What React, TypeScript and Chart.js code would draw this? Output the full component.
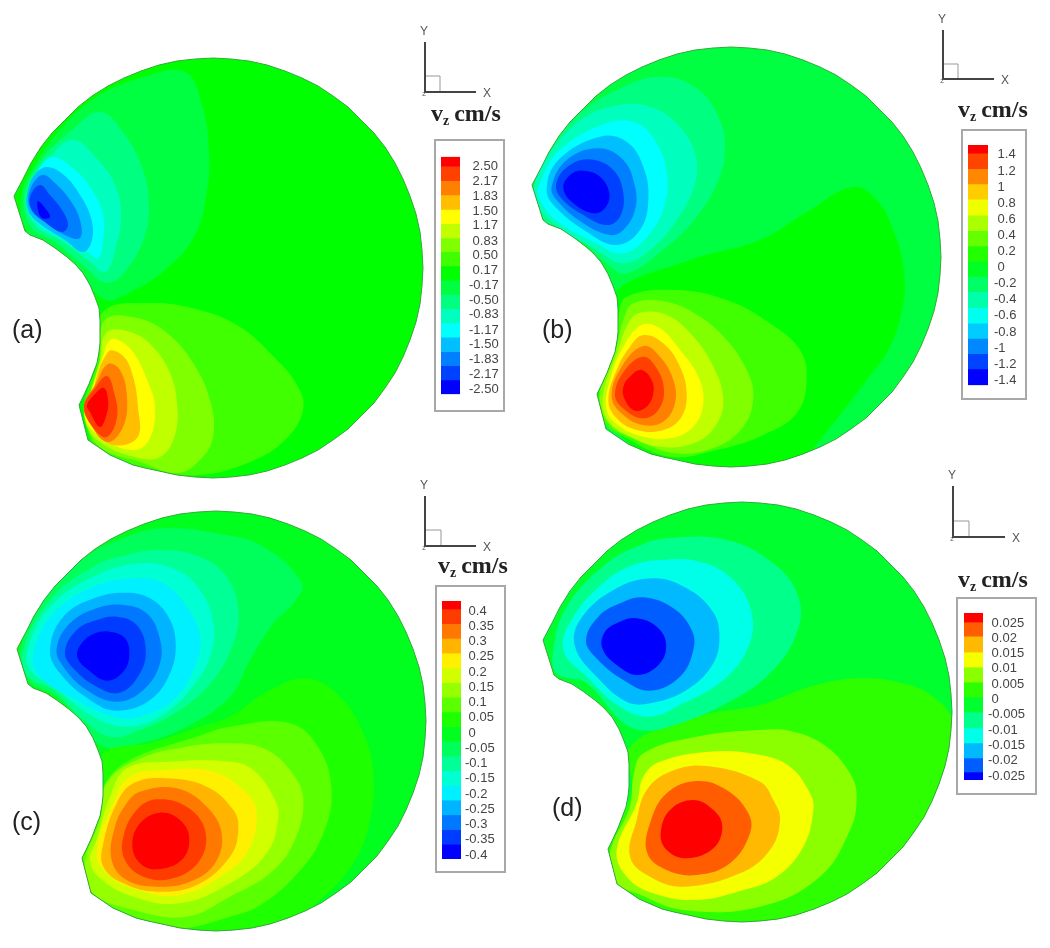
import React, { useEffect, useRef } from "react";
import { Chart, registerables } from "chart.js";

type Pts = number[][];

// ---- Domain outline, in page units (panel a); other panels use the same shape shifted
const outline: Pts = [[14,196],[23,179],[31,163],[41,147],[52,133],[65,120],[78,107],[92,96],[108,86],[124,78],[141,71],[159,65],[177,61],[195,59],[213,58],[231,59],[249,61],[267,65],[285,71],[302,78],[318,86],[333,96],[348,107],[361,120],[374,133],[385,147],[395,163],[403,179],[410,196],[416,214],[420,232],[422,250],[423,268],[422,286],[420,304],[416,322],[410,340],[403,357],[395,373],[385,388],[374,403],[361,416],[348,429],[333,440],[318,450],[302,458],[285,465],[267,471],[249,475],[231,477],[213,478],[195,477],[177,475],[159,471],[145,468],[133,465],[110,455],[88,440],[79,405],[83,397],[89,384],[97,363],[99,352],[100,343],[100,320],[99,308],[95,297],[90,285],[83,273],[75,264],[67,257],[55,248],[43,240],[30,235],[25,231]];
const outlineShift: Pts = [[0,0],[518,-11],[3,453],[529,444]];
const cropOrigins: Pts = [[0,0],[510,60],[0,520],[510,520]];
const cropDiv = [1,3,3,3];
const baseColors = ["#00ff00","#00ff40","#00ff1e","#00ff2e"];
const zeroColors = ["","#00ff00","","#2eff00"];

// ---- Contour colours
const coldA = ["#00ff40","#00ff80","#00ffbf","#00ffff","#00bfff","#0080ff","#0040ff","#0000ff"];
const warmA = ["#40ff00","#80ff00","#bfff00","#ffff00","#ffbf00","#ff8000","#ff4000","#ff0000"];
const coldB = ["#00ff80","#00ffbf","#00ffff","#00bfff","#0080ff","#0040ff","#0000ff"];
const warmB = warmA;
const coldC = ["#00ff5a","#00ff96","#00ffd2","#00f0ff","#00b4ff","#0078ff","#003cff","#0000ff"];
const warmC = ["#1eff00","#5aff00","#96ff00","#d2ff00","#fff000","#ffb400","#ff7800","#ff3c00","#ff0000"];
const coldD = ["#00ff8b","#00ffe8","#00b9ff","#005dff","#0000ff"];
const warmD = ["#8bff00","#f5ff00","#ffb900","#ff5d00","#ff0000"];

// ---- Panel (a) contours
const aCold: Pts[] = [
  [[185,72],[202,105],[209,150],[207,190],[195,235],[165,270],[125,295],[105,300],[85,280],[55,250],[28,232],[21,197],[35,165],[60,130],[95,98],[140,78]],
  [[100,112],[125,135],[143,170],[149,205],[145,235],[130,265],[108,283],[85,267],[55,242],[32,228],[24,197],[40,162],[70,132]],
  [[72,140],[98,160],[115,185],[121,215],[115,250],[105,272],[88,260],[60,240],[35,225],[27,197],[45,165]],
  [[52,157],[75,170],[92,190],[103,215],[103,240],[98,258],[85,250],[60,237],[37,222],[28,197],[37,172]],
  [[48,167],[65,176],[80,195],[91,218],[92,240],[83,252],[65,240],[40,224],[28,210],[28,190],[36,173]],
  [[42,175],[55,183],[70,200],[80,220],[80,238],[65,235],[42,220],[30,208],[30,190]],
  [[40,185],[50,195],[62,210],[68,225],[62,232],[45,222],[32,210],[30,197]],
  [[38,201],[45,208],[50,217],[42,218],[38,210]],
];
const aWarm: Pts[] = [
  [[103,312],[150,303],[200,310],[240,327],[272,355],[297,385],[303,410],[285,440],[250,462],[200,475],[150,470],[100,452],[85,420],[85,400],[98,360]],
  [[105,320],[137,318],[167,333],[193,363],[210,400],[213,437],[200,460],[177,473],[140,462],[100,447],[86,420],[88,400],[100,360]],
  [[107,332],[133,333],[153,347],[170,373],[177,403],[175,435],[160,457],[135,457],[100,442],[85,420],[90,395],[100,360]],
  [[110,340],[122,342],[135,355],[148,382],[155,407],[150,438],[135,450],[105,440],[85,418],[92,390],[102,360]],
  [[108,352],[122,355],[132,373],[138,407],[137,438],[110,444],[90,420],[92,395]],
  [[108,364],[120,370],[127,397],[123,427],[107,442],[88,420],[84,405],[95,385]],
  [[107,376],[114,392],[117,417],[107,437],[95,430],[84,407],[95,388]],
  [[104,388],[108,400],[107,413],[100,427],[90,412],[87,405],[95,394]],
];

// ---- Panel (b) contours
const bZero: Pts = [[306,705],[540,600],[750,540],[900,450],[1030,380],[1100,420],[1150,510],[1180,620],[1180,730],[1140,860],[1070,960],[930,1140],[850,1230],[600,1300],[300,1100],[246,1005],[306,840]];
const bCold: Pts[] = [
  [[450,50],[560,85],[625,170],[645,260],[625,360],[560,470],[470,560],[350,640],[290,610],[200,530],[110,490],[80,440],[72,375],[110,290],[200,170],[320,90]],
  [[330,135],[420,140],[500,190],[555,280],[555,370],[500,480],[420,570],[340,610],[260,570],[160,510],[90,450],[75,375],[120,280],[220,175]],
  [[290,190],[380,190],[440,250],[470,340],[465,430],[420,520],[340,580],[250,545],[150,490],[90,420],[90,370],[150,270]],
  [[270,230],[350,245],[400,320],[415,420],[390,510],[320,555],[230,515],[140,445],[110,390],[145,300]],
  [[265,265],[340,300],[375,380],[375,450],[340,510],[300,525],[220,490],[140,420],[125,380],[170,300]],
  [[240,298],[310,330],[340,400],[330,470],[290,495],[220,465],[150,410],[140,365],[180,315]],
  [[220,332],[270,350],[298,400],[285,445],[250,460],[190,430],[160,385],[180,345]],
];
const bWarm: Pts[] = [
  [[350,710],[500,690],[650,720],[780,790],[870,870],[890,960],[860,1060],[760,1125],[620,1170],[480,1190],[350,1135],[285,1090],[265,1010],[310,880],[325,770]],
  [[370,730],[470,725],[570,770],[650,840],[710,930],[730,1010],[700,1100],[620,1160],[500,1180],[380,1140],[295,1090],[270,1000],[320,860],[340,780]],
  [[385,760],[470,765],[550,830],[610,920],[640,1020],[615,1100],[550,1150],[450,1160],[350,1125],[290,1075],[280,1000],[325,870],[350,800]],
  [[395,795],[450,805],[510,870],[565,950],[580,1030],[550,1100],[480,1135],[400,1130],[330,1100],[290,1050],[300,960],[340,860]],
  [[400,825],[460,850],[510,920],[530,1000],[515,1070],[460,1110],[380,1110],[320,1075],[295,1020],[320,930],[360,860]],
  [[400,858],[450,890],[490,960],[495,1030],[460,1085],[400,1095],[340,1065],[305,1010],[335,920]],
  [[400,890],[440,925],[462,990],[445,1050],[400,1075],[345,1050],[315,1005],[345,930]],
  [[395,930],[425,960],[430,1000],[410,1040],[375,1052],[345,1020],[340,980],[365,945]],
];

// ---- Panel (c) contours
const cCold: Pts[] = [
  [[490,25],[650,40],[790,80],[905,190],[880,250],[820,310],[750,420],[690,530],[560,620],[420,670],[310,680],[250,610],[170,530],[85,480],[62,390],[130,240],[260,110],[380,50]],
  [[480,90],[600,110],[680,170],[715,270],[700,370],[640,480],[540,570],[420,630],[330,650],[240,590],[160,510],[85,470],[70,390],[150,240],[280,140],[380,105]],
  [[420,130],[530,150],[600,210],[640,310],[630,410],[570,510],[480,590],[380,620],[280,590],[160,500],[90,450],[85,380],[150,260],[280,170]],
  [[400,175],[490,190],[560,260],[600,350],[585,440],[520,540],[420,590],[340,590],[230,540],[120,470],[100,400],[160,280],[280,200]],
  [[380,218],[450,235],[505,290],[527,370],[510,460],[450,540],[350,572],[270,540],[180,460],[150,390],[190,290],[290,232]],
  [[370,255],[440,280],[478,350],[480,430],[430,510],[350,545],[260,510],[190,440],[170,385],[210,310],[290,265]],
  [[350,290],[410,315],[437,385],[420,460],[360,518],[290,500],[220,445],[195,395],[230,330],[290,300]],
  [[330,335],[375,355],[388,405],[370,455],[320,482],[265,450],[232,410],[245,370],[285,340]],
];
const cWarm: Pts[] = [
  [[310,700],[450,670],[600,620],[690,590],[810,510],[920,475],[1020,530],[1090,640],[1120,760],[1110,900],[1060,1030],[960,1140],[860,1210],[700,1250],[500,1250],[300,1150],[245,1030],[290,900],[315,790]],
  [[390,720],[590,650],[690,620],[870,610],[960,690],[995,820],[970,940],[910,1040],[790,1150],[690,1190],[530,1225],[380,1190],[270,1130],[245,1030],[290,900],[310,800]],
  [[410,720],[560,680],[690,670],[790,685],[870,750],[910,840],[880,970],[810,1060],[690,1130],[560,1190],[400,1170],[280,1120],[255,1030],[300,900],[320,790]],
  [[380,745],[500,725],[690,725],[760,750],[820,830],[835,890],[800,1000],[690,1090],[540,1150],[400,1130],[300,1075],[270,1020],[290,960],[330,830]],
  [[390,770],[500,750],[640,755],[740,820],[770,880],[750,980],[690,1050],[540,1125],[400,1105],[320,1060],[290,1000],[340,850]],
  [[400,790],[500,775],[620,800],[700,870],[715,930],[690,1010],[590,1095],[470,1115],[370,1090],[310,1040],[310,970],[350,850]],
  [[420,815],[530,805],[620,860],[665,940],[645,1030],[570,1085],[470,1100],[380,1080],[335,1020],[345,920],[380,850]],
  [[470,838],[560,860],[615,930],[600,1020],[520,1075],[430,1070],[375,1020],[370,950],[410,870]],
  [[480,878],[540,900],[568,955],[545,1020],[470,1048],[420,1030],[397,975],[420,910]],
];

// ---- Panel (d) contours
const dZero: Pts = [[360,680],[560,590],[750,555],[900,500],[1050,475],[1180,490],[1270,530],[1330,600],[1400,800],[1400,1270],[300,1270],[290,1000],[370,800]];
const dCold: Pts[] = [
  [[470,55],[650,60],[790,130],[865,230],[860,340],[780,460],[650,550],[480,620],[390,630],[330,600],[230,490],[140,460],[130,390],[170,260],[290,130],[380,80]],
  [[450,120],[570,125],[670,180],[725,280],[715,380],[640,480],[520,550],[420,590],[330,560],[230,470],[160,390],[190,290],[290,180],[370,135]],
  [[430,175],[530,205],[605,270],[628,340],[610,430],[530,510],[420,550],[350,545],[260,470],[195,380],[210,300],[310,210]],
  [[400,232],[490,265],[545,330],[550,390],[510,470],[420,512],[340,480],[255,410],[228,360],[265,290],[330,250]],
  [[380,295],[440,320],[468,370],[450,430],[385,465],[320,435],[277,385],[285,335],[330,305]],
];
const dWarm: Pts[] = [
  [[400,700],[560,650],[750,630],[850,635],[950,680],[1020,760],[1040,830],[1020,930],[930,1070],[750,1160],[520,1170],[380,1120],[320,1090],[300,1000],[360,860],[370,770]],
  [[450,725],[600,695],[750,705],[840,740],[900,820],[910,870],[880,980],[800,1070],[700,1110],[560,1140],[430,1120],[350,1070],[320,990],[380,850],[400,770]],
  [[480,755],[590,738],[750,785],[790,840],[810,900],[780,990],[690,1060],[520,1100],[420,1070],[360,1010],[380,900],[410,810]],
  [[560,783],[650,810],[715,880],[720,940],[660,1030],[560,1065],[470,1050],[412,1000],[420,910],[470,820]],
  [[550,840],[610,870],[637,920],[610,985],[530,1015],[470,990],[452,940],[480,870]],
];

const coldSets = [aCold, bCold, cCold, dCold];
const warmSets = [aWarm, bWarm, cWarm, dWarm];
const zeroSets: (Pts | null)[] = [null, bZero, null, dZero];
const coldPalettes = [coldA, coldB, coldC, coldD];
const warmPalettes = [warmA, warmB, warmC, warmD];

// ---- Colour bar scales
const tickTextA = ["2.50","2.17","1.83","1.50","1.17","0.83","0.50","0.17","-0.17","-0.50","-0.83","-1.17","-1.50","-1.83","-2.17","-2.50"];
const tickTextB = ["1.4","1.2","1","0.8","0.6","0.4","0.2","0","-0.2","-0.4","-0.6","-0.8","-1","-1.2","-1.4"];
const tickTextC = ["0.4","0.35","0.3","0.25","0.2","0.15","0.1","0.05","0","-0.05","-0.1","-0.15","-0.2","-0.25","-0.3","-0.35","-0.4"];
const tickTextD = ["0.025","0.02","0.015","0.01","0.005","0","-0.005","-0.01","-0.015","-0.02","-0.025"];

const edgesA = [2.718,2.5,2.18,1.86,1.54,1.22,0.9,0.59,0.27,-0.05,-0.37,-0.69,-1.01,-1.33,-1.65,-1.97,-2.29,-2.609];
const edgesB = [1.523,1.42,1.23,1.04,0.85,0.65,0.46,0.27,0.08,-0.11,-0.3,-0.5,-0.69,-0.88,-1.07,-1.26,-1.462];
const edgesC = [0.4328,0.4066,0.3584,0.3102,0.262,0.2138,0.1656,0.1174,0.0692,0.021,-0.0272,-0.0754,-0.1236,-0.1718,-0.22,-0.2682,-0.3164,-0.3646,-0.4131];
const edgesD = [0.02827,0.0253,0.0207,0.0155,0.0106,0.0057,0.0008,-0.0041,-0.0093,-0.0142,-0.0191,-0.0237,-0.02631];

const barColorsA = ["#ff0000","#ff4000","#ff8000","#ffbf00","#ffff00","#bfff00","#80ff00","#40ff00","#00ff00","#00ff40","#00ff80","#00ffbf","#00ffff","#00bfff","#0080ff","#0040ff","#0000ff"];
const barColorsB = ["#ff0000","#ff4400","#ff8800","#ffcc00","#eeff00","#aaff00","#66ff00","#22ff00","#00ff22","#00ff66","#00ffaa","#00ffee","#00ccff","#0088ff","#0044ff","#0000ff"];
const barColorsC = ["#ff0000","#ff3c00","#ff7800","#ffb400","#fff000","#d2ff00","#96ff00","#5aff00","#1eff00","#00ff1e","#00ff5a","#00ff96","#00ffd2","#00f0ff","#00b4ff","#0078ff","#003cff","#0000ff"];
const barColorsD = ["#ff0000","#ff5d00","#ffb900","#f5ff00","#8bff00","#2eff00","#00ff2e","#00ff8b","#00ffe8","#00b9ff","#005dff","#0000ff"];

// frame [left, top, right, bottom], bar [left, right, top, bottom]
const frames: Pts = [[435,140,504,411],[962,130,1026,399],[436,586,505,872],[957,598,1036,794]];
const bars: Pts = [[441,460,154,398],[968,988,145,387],[442,461,601,859],[964,983,613,780]];
const tickPads = [9,6,4,5];
const tickTexts = [tickTextA, tickTextB, tickTextC, tickTextD];
const edgeSets = [edgesA, edgesB, edgesC, edgesD];
const barColorSets = [barColorsA, barColorsB, barColorsC, barColorsD];

// ---- Coordinate triads: origin x, origin y, top y, right x, box x, box y
const triads: Pts = [[425,92,42,476,440,76],[943,79,30,994,958,64],[425,546,496,476,441,530],[953,537,486,1005,969,521]];
const titleAnchors: Pts = [[431,121],[958,117],[438,573],[958,587]];
const panelLabels = ["(a)","(b)","(c)","(d)"];
const panelLabelAnchors: Pts = [[12,338],[542,338],[12,830],[552,816]];

const panelClip = {
  id: "panelClip",
  beforeDatasetDraw(chart: any, args: any) {
    const ds = chart.data.datasets[args.index];
    if (ds.clipPanel === undefined) return;
    const { x, y } = chart.scales;
    const [dx, dy] = outlineShift[ds.clipPanel];
    const ctx = chart.ctx;
    ctx.save();
    ctx.beginPath();
    outline.forEach((p, i) => {
      const px = x.getPixelForValue(p[0] + dx);
      const py = y.getPixelForValue(p[1] + dy);
      if (i === 0) ctx.moveTo(px, py);
      else ctx.lineTo(px, py);
    });
    ctx.closePath();
    ctx.clip();
  },
  afterDatasetDraw(chart: any, args: any) {
    const ds = chart.data.datasets[args.index];
    if (ds.clipPanel !== undefined) chart.ctx.restore();
  },
};

// The clip plugin must come before the Filler so that the fills are clipped as well.
Chart.register(panelClip);
Chart.register(...registerables);

const textPlugin = {
  id: "figureText",
  afterDraw(chart: any) {
    const ctx = chart.ctx;
    ctx.save();
    ctx.textBaseline = "alphabetic";
    ctx.textAlign = "left";
    triads.forEach((t) => {
      ctx.fillStyle = "#555";
      ctx.font = '12px "Liberation Sans"';
      ctx.textAlign = "center";
      ctx.fillText("Y", t[0] - 1, t[2] - 7);
      ctx.fillText("X", t[3] + 11, t[1] + 5);
      ctx.font = '6px "Liberation Sans"';
      ctx.fillText("Z", t[0] - 1, t[1] + 4);
      ctx.textAlign = "left";
    });
    titleAnchors.forEach((a) => {
      ctx.fillStyle = "#222";
      ctx.font = 'bold 24px "Liberation Serif"';
      const vw = ctx.measureText("v").width;
      ctx.fillText("v", a[0], a[1]);
      ctx.font = 'bold 14px "Liberation Serif"';
      const zw = ctx.measureText("z").width;
      ctx.fillText("z", a[0] + vw, a[1] + 4);
      ctx.font = 'bold 24px "Liberation Serif"';
      ctx.fillText("cm/s", a[0] + vw + zw + 5, a[1]);
    });
    ctx.fillStyle = "#222";
    ctx.font = '25px "Liberation Sans"';
    panelLabels.forEach((l, i) => ctx.fillText(l, panelLabelAnchors[i][0], panelLabelAnchors[i][1]));
    ctx.restore();
  },
};

// Wraps round the first and last points so that the curve stays smooth where it closes.
function shape(points: { x: number; y: number }[], color: string, clipPanel: number) {
  const n = points.length;
  return {
    data: [points[n - 1], ...points, points[0], points[1]],
    showLine: true,
    fill: "shape",
    backgroundColor: color,
    borderWidth: 0,
    pointRadius: 0,
    tension: 0.4,
    clipPanel,
  };
}

function baseShape(points: { x: number; y: number }[], color: string) {
  return {
    data: [...points, points[0]],
    showLine: true,
    fill: "shape",
    backgroundColor: color,
    borderWidth: 0,
    pointRadius: 0,
    tension: 0,
  };
}

function stroke(points: { x: number; y: number }[], color: string, width: number) {
  return {
    data: points,
    showLine: true,
    fill: false,
    borderColor: color,
    borderWidth: width,
    pointRadius: 0,
    tension: 0,
  };
}

function buildDatasets() {
  const paint: any[] = [];
  for (let p = 0; p < 4; p++) {
    const [sx, sy] = outlineShift[p];
    const out = outline.map((q) => ({ x: q[0] + sx, y: q[1] + sy }));
    const toPage = (q: number[]) => ({
      x: cropOrigins[p][0] + q[0] / cropDiv[p],
      y: cropOrigins[p][1] + q[1] / cropDiv[p],
    });
    paint.push(baseShape(out, baseColors[p]));
    const zero = zeroSets[p];
    if (zero) paint.push(shape(zero.map(toPage), zeroColors[p], p));
    coldSets[p].forEach((poly, i) => paint.push(shape(poly.map(toPage), coldPalettes[p][i], p)));
    warmSets[p].forEach((poly, i) => paint.push(shape(poly.map(toPage), warmPalettes[p][i], p)));
    paint.push(stroke([...out, out[0]], "#35a83a", 1));
  }
  triads.forEach((t) => {
    paint.push(stroke([{ x: t[0], y: t[1] }, { x: t[4], y: t[1] }, { x: t[4], y: t[5] }, { x: t[0], y: t[5] }], "#999999", 1));
    paint.push(stroke([{ x: t[0], y: t[2] }, { x: t[0], y: t[1] }, { x: t[3], y: t[1] }], "#444444", 2));
  });
  // Chart.js paints the first dataset last
  return paint.reverse();
}

function ColorBar({ index }: { index: number }) {
  const ref = useRef<HTMLCanvasElement>(null);
  const [fl, ft, fr, fb] = frames[index];
  useEffect(() => {
    const [bl, br, bt, bb] = bars[index];
    const edges = edgeSets[index];
    const texts = tickTexts[index];
    const values = texts.map(Number);
    const width = fr - fl;
    const chart = new Chart(ref.current!, {
      type: "bar",
      data: {
        labels: [""],
        datasets: barColorSets[index].map((c, i) => ({
          data: [[edges[i + 1], edges[i]]],
          backgroundColor: c,
          borderWidth: 0,
          barPercentage: 1,
          categoryPercentage: 1,
        })),
      },
      options: {
        animation: false,
        responsive: false,
        layout: { padding: { left: bl - fl, top: bt - ft, bottom: fb - bb, right: 0 } },
        plugins: { legend: { display: false }, tooltip: { enabled: false } },
        scales: {
          x: { display: false, stacked: true },
          y: {
            position: "right",
            min: edges[edges.length - 1],
            max: edges[0],
            grid: { display: false, drawTicks: false },
            border: { display: false },
            afterFit(s: any) {
              s.width = width - (br - bl) - (bl - fl);
            },
            afterBuildTicks(s: any) {
              s.ticks = values.map((value) => ({ value }));
            },
            ticks: {
              autoSkip: false,
              padding: tickPads[index],
              color: "#444",
              font: { family: "Liberation Sans", size: 13 },
              callback: (_v: any, i: number) => (texts[i].startsWith("-") ? texts[i] : " " + texts[i]),
            },
          },
        },
      },
    } as any);
    return () => chart.destroy();
  }, [index, fl, ft, fr, fb]);
  return (
    <canvas
      ref={ref}
      width={fr - fl}
      height={fb - ft}
      style={{
        position: "absolute",
        left: fl,
        top: ft,
        width: fr - fl,
        height: fb - ft,
        background: "#fff",
        outline: "2px solid #a8a8a8",
        outlineOffset: -1,
      }}
    />
  );
}

export default function App() {
  const ref = useRef<HTMLCanvasElement>(null);
  useEffect(() => {
    const chart = new Chart(ref.current!, {
      type: "scatter",
      data: { datasets: buildDatasets() },
      options: {
        animation: false,
        responsive: false,
        layout: { padding: 0 },
        plugins: { legend: { display: false }, tooltip: { enabled: false } },
        scales: {
          x: { type: "linear", display: false, min: 0, max: 1050 },
          y: { type: "linear", display: false, min: 0, max: 948, reverse: true },
        },
      },
      plugins: [textPlugin],
    } as any);
    return () => chart.destroy();
  }, []);
  return (
    <div style={{ position: "absolute", left: 0, top: 0, width: 1050, height: 948, background: "#fff" }}>
      <canvas ref={ref} width={1050} height={948} style={{ display: "block", width: 1050, height: 948 }} />
      {frames.map((_, i) => (
        <ColorBar key={i} index={i} />
      ))}
    </div>
  );
}
